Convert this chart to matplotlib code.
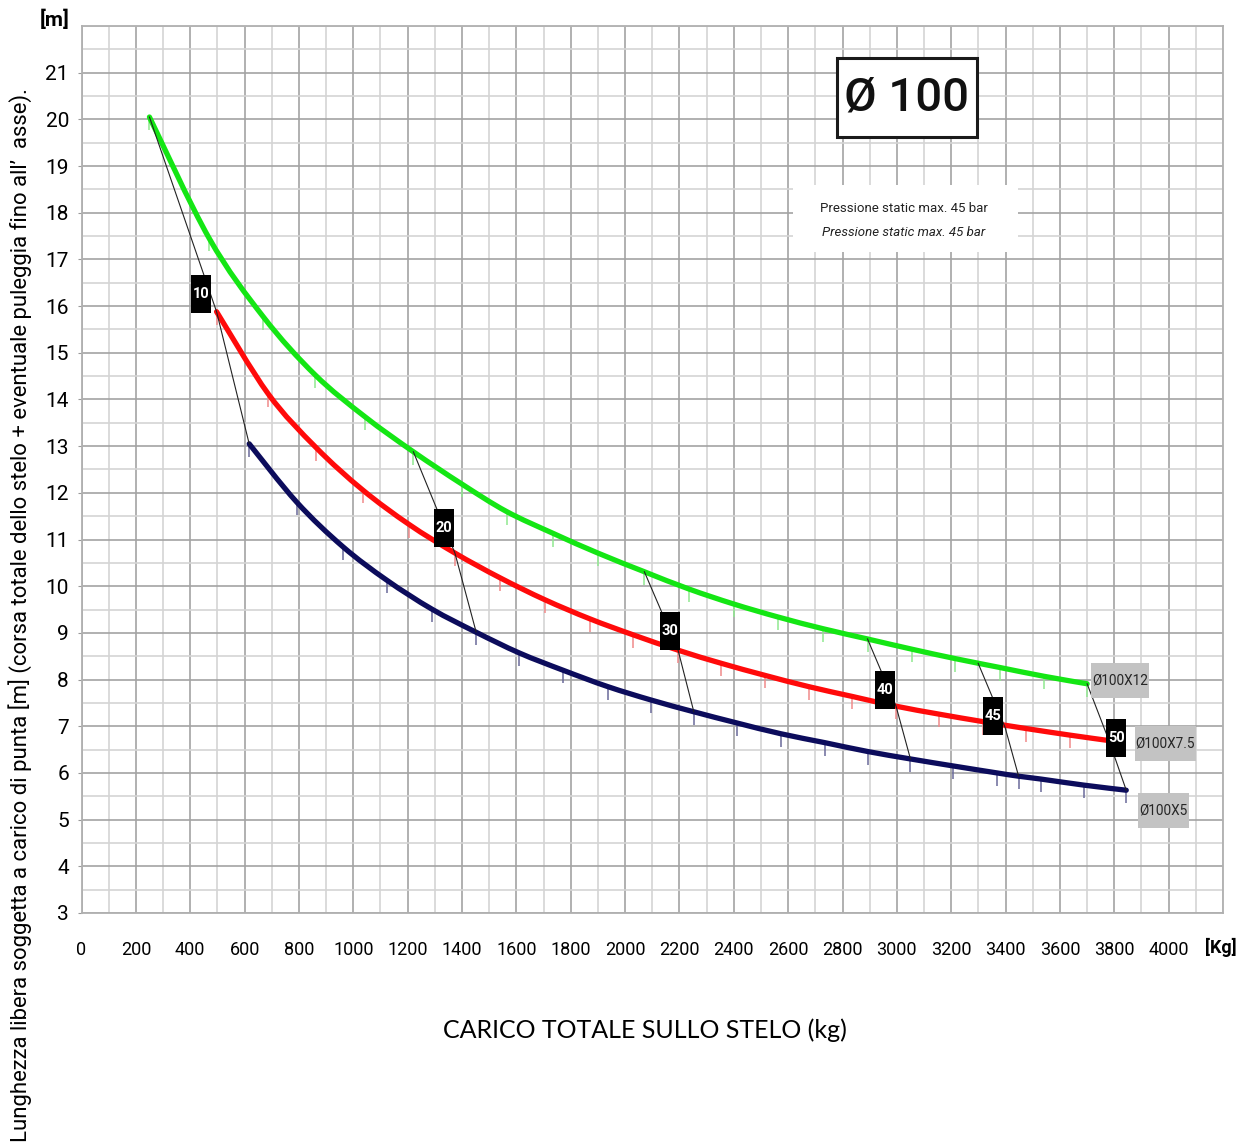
import numpy as np
import matplotlib
matplotlib.use("Agg")
import matplotlib.pyplot as plt
from matplotlib.patches import Rectangle, PathPatch
from matplotlib.path import Path

plt.rcParams['font.family'] = ['Roboto', 'DejaVu Sans']

# curve data: load [kg] vs free length [m]
kg_12 = [250, 470, 669, 859, 1043, 1221, 1399, 1564, 1736, 1900, 2071, 2235, 2399,
         2563, 2728, 2892, 3056, 3214, 3378, 3542, 3700]
m_12 = [20.05, 17.45, 15.77, 14.53, 13.63, 12.88, 12.19, 11.60, 11.13, 10.71, 10.31,
        9.94, 9.62, 9.34, 9.09, 8.87, 8.65, 8.45, 8.26, 8.07, 7.91]

kg_75 = [497, 687, 863, 1035, 1206, 1374, 1540, 1705, 1871, 2029, 2195, 2353, 2515,
         2675, 2835, 2997, 3155, 3316, 3477, 3637, 3772]
m_75 = [15.88, 14.12, 12.97, 12.06, 11.32, 10.71, 10.18, 9.71, 9.30, 8.96, 8.63, 8.35,
        8.09, 7.85, 7.64, 7.43, 7.26, 7.10, 6.95, 6.81, 6.70]

kg_5 = [617, 792, 961, 1123, 1289, 1450, 1611, 1772, 1936, 2097, 2253, 2412, 2573,
        2734, 2892, 3050, 3207, 3369, 3448, 3529, 3687, 3844]
m_5 = [13.05, 11.80, 10.85, 10.13, 9.51, 9.02, 8.57, 8.20, 7.85, 7.56, 7.31, 7.07,
       6.84, 6.65, 6.46, 6.30, 6.15, 6.00, 5.93, 5.87, 5.74, 5.63]

series_names = ['Ø100X12', 'Ø100X7.5', 'Ø100X5']

# pressure lines (bar): points on the green, red and blue curve
bar_labels = ['10', '20', '30', '40', '45', '50']
bar_kg = [[250, 497, 617], [1221, 1374, 1452], [2071, 2195, 2253],
          [2892, 2997, 3050], [3299, 3398, 3448], [3700, 3780, 3844]]
bar_m = [[20.05, 15.88, 13.05], [12.88, 10.71, 9.02], [10.31, 8.63, 7.31],
         [8.87, 7.43, 6.30], [8.35, 6.98, 5.93], [7.91, 6.70, 5.63]]
# where the black label boxes sit
bar_box_kg = [440, 1334, 2165, 2957, 3354, 3807]
bar_box_m = [16.26, 11.25, 9.04, 7.78, 7.22, 6.75]

xticks = list(range(0, 4001, 200))
yticks = list(range(3, 22))


def smooth_path(xs, ys):
    # excel-like smoothed line: bezier segments through the data points
    p = np.column_stack([xs, ys]).astype(float)
    n = len(p)
    verts = [p[0]]
    codes = [Path.MOVETO]
    for i in range(n - 1):
        p0 = p[i - 1] if i > 0 else p[i]
        p3 = p[i + 2] if i + 2 < n else p[i + 1]
        verts += [p[i] + (p[i + 1] - p0) / 6, p[i + 1] - (p3 - p[i]) / 6, p[i + 1]]
        codes += [Path.CURVE4] * 3
    return Path(verts, codes)


W, H = 1245, 1147
fig = plt.figure(figsize=(W / 100, H / 100), dpi=100)
ax = fig.add_axes([81.5 / W, 1 - 913 / H, (1223 - 81.5) / W, (913 - 26) / H])
ax.set_xlim(0, 4200)
ax.set_ylim(3, 22)

ax.set_xticks(xticks)
ax.set_xticks(np.arange(0, 4201, 100), minor=True)
ax.set_yticks(yticks)
ax.set_yticks(np.arange(3, 22.01, 0.5), minor=True)
ax.grid(which='major', color='#a3a3a3', lw=1.2)
ax.grid(which='minor', color='#d4d4d4', lw=1.2)
ax.set_axisbelow(True)
for s in ax.spines.values():
    s.set_color('#b0b0b0')
    s.set_linewidth(1.3)
ax.tick_params(axis='x', which='both', length=0, pad=20, labelsize=13)
ax.tick_params(axis='y', which='major', length=3, color='#999999', pad=6, labelsize=15)
ax.tick_params(axis='y', which='minor', length=0)

colors = ['#14e614', '#ff0a0a', '#0c0c5c']
tick_cols = ['#8fe88f', '#f08a8a', '#6a6a9a']
for xs, ys, c, tc in zip([kg_12, kg_75, kg_5], [m_12, m_75, m_5], colors, tick_cols):
    ax.errorbar(xs, ys, yerr=[[0.28] * len(ys), [0] * len(ys)], fmt='none',
                ecolor=tc, elinewidth=1.1, capsize=0, zorder=2)
    ax.add_patch(PathPatch(smooth_path(xs, ys), fill=False, edgecolor=c, lw=3.8,
                           capstyle='round', zorder=3))

for xs, ys in zip(bar_kg, bar_m):
    ax.plot(xs, ys, color='#222222', lw=0.8, zorder=4)

for lab, bx, by in zip(bar_labels, bar_box_kg, bar_box_m):
    ax.add_patch(Rectangle((bx - 36, by - 0.4), 72, 0.8, facecolor='black',
                           edgecolor='none', zorder=5))
    ax.text(bx, by, lab, color='white', fontsize=10.5, fontweight='bold',
            ha='center', va='center', zorder=6)

# grey series name boxes
name_pos = [(3821, 7.97, 214), (3987, 6.64, 224), (3981, 5.20, 188)]
for name, (nx, ny, nw) in zip(series_names, name_pos):
    ax.add_patch(Rectangle((nx - nw / 2, ny - 0.375), nw, 0.75, facecolor='#c3c3c3',
                           edgecolor='none', zorder=5))
    ax.text(nx, ny, name, color='#262626', fontsize=9.8, ha='center', va='center',
            zorder=6)

# title box
fig.add_artist(Rectangle((837 / W, 1 - 137 / H), 140 / W, 79 / H, transform=fig.transFigure,
                         facecolor='white', edgecolor='#1a1a1a', lw=2.2))
fig.text(907 / W, 1 - 98 / H, 'Ø 100', fontsize=34, fontweight='medium', ha='center',
         va='center', color='#111111')

# pressure note box
fig.add_artist(Rectangle((793 / W, 1 - 252 / H), 225 / W, 67 / H, transform=fig.transFigure,
                         facecolor='white', edgecolor='none'))
fig.text(904 / W, 1 - 208 / H, 'Pressione static max. 45 bar', fontsize=9.5,
         ha='center', va='center', color='#222222')
fig.text(904 / W, 1 - 232 / H, 'Pressione static max. 45 bar', fontsize=9.5,
         style='italic', ha='center', va='center', color='#222222')

fig.text(55 / W, 1 - 20 / H, '[m]', fontsize=15, fontweight='bold', ha='center',
         va='center')
fig.text(1221 / W, 1 - 947 / H, '[Kg]', fontsize=13, fontweight='bold', ha='center',
         va='center')

fig.text(645 / W, 1 - 1030 / H, 'CARICO TOTALE SULLO STELO (kg)', fontsize=18,
         family=['Lato', 'DejaVu Sans'], ha='center', va='center')
fig.text(20 / W, 1 - 615 / H,
         'Lunghezza libera soggetta a carico di punta [m] (corsa totale dello stelo + '
         'eventuale puleggia fino all’  asse).',
         fontsize=15.9, rotation=90, ha='center', va='center')

fig.savefig('out.png', dpi=100)
